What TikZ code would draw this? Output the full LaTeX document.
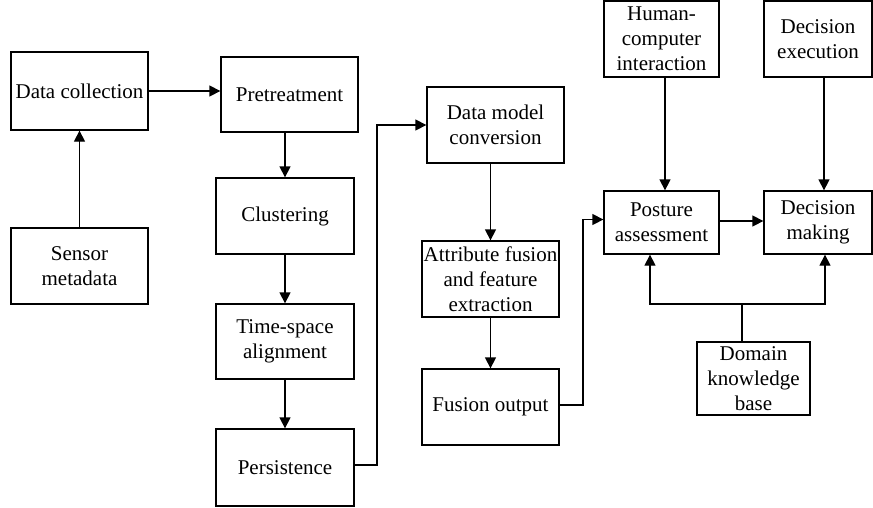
\documentclass[tikz,border=0pt]{standalone}
\usepackage{fontspec}
\setmainfont{Liberation Serif}
\usetikzlibrary{arrows.meta,calc}

\tikzset{
  box/.style={draw, line width=1.3pt, align=center, inner sep=1pt,
              font=\fontsize{21}{25}\selectfont},
  flow/.style={draw, line width=1.3pt, -{Triangle[length=11pt,width=11pt]}},
  link/.style={draw, line width=1.3pt}
}

\begin{document}
\begin{tikzpicture}[x=1pt, y=-1pt]
  \useasboundingbox (0,0) rectangle (873,507);

  % left column
  \node[box, minimum width=137pt, minimum height=78pt] (dc) at (79.5,91) {Data collection};
  \node[box, minimum width=137pt, minimum height=76pt] (sm) at (79.5,266) {Sensor\\metadata};

  % preprocessing column
  \node[box, minimum width=137pt, minimum height=75pt] (pre) at (289.5,94.5) {Pretreatment};
  \node[box, minimum width=138pt, minimum height=76pt] (clu) at (285,216) {Clustering};
  \node[box, minimum width=138pt, minimum height=75pt] (tsa) at (285,341.5) {Time-space\\alignment};
  \node[box, minimum width=138pt, minimum height=77pt] (per) at (285,467.5) {Persistence};

  % fusion column
  \node[box, minimum width=137pt, minimum height=76pt] (dmc) at (495.5,125) {Data model\\conversion};
  \node[box, minimum width=137pt, minimum height=76pt] (afe) at (490.5,279) {Attribute fusion\\and feature\\extraction};
  \node[box, minimum width=137pt, minimum height=76pt] (fo) at (490.5,407) {Fusion output};

  % decision part
  \node[box, minimum width=115pt, minimum height=76pt] (hci) at (661.5,39) {Human-\\computer\\interaction};
  \node[box, minimum width=108pt, minimum height=76pt] (dex) at (818,39) {Decision\\execution};
  \node[box, minimum width=115pt, minimum height=63pt] (pa) at (661.5,222.5) {Posture\\assessment};
  \node[box, minimum width=108pt, minimum height=63pt] (dm) at (818,222.5) {Decision\\making};
  \node[box, minimum width=113pt, minimum height=73pt] (dkb) at (753.5,378.5) {Domain\\knowledge\\base};

  % routing points
  \coordinate (j1) at (377,0);
  \coordinate (j2) at (583,0);
  \coordinate (kb) at (742,304);
  \coordinate (kbl) at (650,304);
  \coordinate (kbr) at (825,304);

  % connectors
  \path[flow] (sm.north) -- (dc.south);
  \path[flow] (dc.east) -- (dc.east -| pre.west);
  \path[flow] (clu.north |- pre.south) -- (clu.north);
  \path[flow] (clu.south) -- (tsa.north);
  \path[flow] (tsa.south) -- (per.north);
  \path[flow] ($(per.east)+(0,-2.5)$) -| (j1 |- dmc.west) -- (dmc.west);
  \path[flow] (afe.north |- dmc.south) -- (afe.north);
  \path[flow] (afe.south) -- (fo.north);
  \path[flow] ($(fo.east)+(0,-2)$) -| ($(j2 |- pa.west)+(0,-3)$) -- ($(pa.west)+(0,-3)$);
  \path[flow] ($(hci.south)+(3.5,0)$) -- ($(pa.north)+(3.5,0)$);
  \path[flow] ($(dex.south)+(6,0)$) -- ($(dm.north)+(6,0)$);
  \path[flow] ($(pa.east)+(0,-1.5)$) -- ($(dm.west)+(0,-1.5)$);
  \path[link] (kb |- dkb.north) -- (kb);
  \path[flow] (kb) -- (kbl) -- (kbl |- pa.south);
  \path[flow] (kb) -- (kbr) -- (kbr |- dm.south);
\end{tikzpicture}
\end{document}
